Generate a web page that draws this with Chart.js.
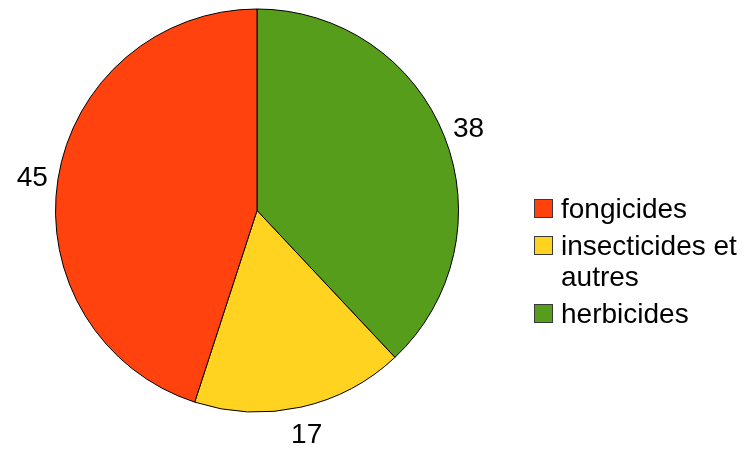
<!DOCTYPE html>
<html>
<head>
<meta charset="utf-8">
<script src="https://cdn.jsdelivr.net/npm/chart.js@4/dist/chart.umd.min.js"></script>
<style>
  html, body { margin: 0; padding: 0; background: #ffffff; }
  #wrap { width: 751px; height: 455px; }
</style>
</head>
<body>
<div id="wrap"><canvas id="c" width="751" height="455"></canvas></div>
<script>
// Data (drawn clockwise from 12 o'clock)
const categories = ['herbicides', 'insecticides et autres', 'fongicides'];
const values = [38, 17, 45];
const colors = ['#579d1c', '#ffd320', '#ff420e'];
// Legend lines (legend lists the categories in reverse order)
const legendLines = [['fongicides'], ['insecticides et', 'autres'], ['herbicides']];
const legendColors = ['#ff420e', '#ffd320', '#579d1c'];

const FONT = '"Liberation Sans", Arial, sans-serif';

const labelPlugin = {
  id: 'outsideLabels',
  afterDatasetsDraw(chart) {
    const ctx = chart.ctx;
    const meta = chart.getDatasetMeta(0);
    ctx.save();
    ctx.font = '28px ' + FONT;
    ctx.fillStyle = '#000000';
    ctx.textAlign = 'center';
    ctx.textBaseline = 'middle';
    meta.data.forEach((arc, i) => {
      const p = arc.getProps(['x', 'y', 'startAngle', 'endAngle', 'outerRadius'], true);
      const mid = (p.startAngle + p.endAngle) / 2;
      const r = p.outerRadius + 26;
      ctx.fillText(String(values[i]), p.x + Math.cos(mid) * r, p.y + Math.sin(mid) * r + 3);
    });
    ctx.restore();
  }
};

const legendPlugin = {
  id: 'sideLegend',
  afterDraw(chart) {
    const ctx = chart.ctx;
    ctx.save();
    ctx.font = '28px ' + FONT;
    ctx.textAlign = 'left';
    ctx.textBaseline = 'alphabetic';
    const boxX = 534, textX = 561, box = 18;
    const lineH = 31, itemGap = 6;
    let baseline = 218;
    legendLines.forEach((lines, i) => {
      ctx.fillStyle = legendColors[i];
      ctx.fillRect(boxX + 0.5, baseline - box - 0.5, box, box);
      ctx.strokeStyle = '#3a3a3a';
      ctx.lineWidth = 1;
      ctx.strokeRect(boxX + 0.5, baseline - box - 0.5, box, box);
      ctx.fillStyle = '#000000';
      lines.forEach((t, j) => {
        ctx.fillText(t, textX, baseline + j * lineH);
      });
      baseline += lines.length * lineH + itemGap;
    });
    ctx.restore();
  }
};

new Chart(document.getElementById('c'), {
  type: 'pie',
  data: {
    labels: categories,
    datasets: [{
      data: values,
      backgroundColor: colors,
      borderColor: '#000000',
      borderWidth: 1,
      borderAlign: 'center'
    }]
  },
  options: {
    responsive: false,
    animation: false,
    rotation: 0,
    layout: { padding: { left: 55, right: 292, top: 8, bottom: 42 } },
    plugins: {
      legend: { display: false },
      tooltip: { enabled: false },
      title: { display: false }
    }
  },
  plugins: [labelPlugin, legendPlugin]
});
</script>
</body>
</html>
